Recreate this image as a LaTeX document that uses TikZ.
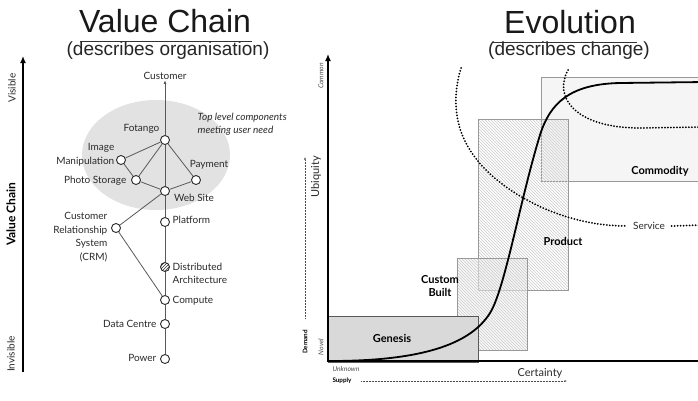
\documentclass[tikz,border=0pt]{standalone}
\usepackage{fontspec}
\setmainfont{Lato}
\newfontfamily\titlefont{Liberation Sans}
\usetikzlibrary{patterns,arrows.meta}
\definecolor{ink}{HTML}{2A2A2A}
\definecolor{blob}{HTML}{E2E2E2}
\begin{document}
\begin{tikzpicture}[x=1pt,y=-1pt,
  vc/.style={circle,draw=ink,fill=white,line width=0.9pt,inner sep=0pt,minimum size=9pt},
  lbl/.style={font=\fontsize{10}{13.5}\selectfont,text=ink,inner sep=0.5pt},
  itl/.style={font=\itshape\fontsize{10}{13}\selectfont,text=ink,inner sep=0.5pt},
  vedge/.style={draw=black!65,line width=0.8pt},
  title/.style={font=\titlefont\fontsize{32}{32}\selectfont,text=black!90,anchor=base,inner sep=0pt},
  subtitle/.style={font=\titlefont\fontsize{19}{20}\selectfont,text=black!85,anchor=base,inner sep=0pt},
  boxlbl/.style={font=\bfseries\fontsize{11}{13}\selectfont,text=black,inner sep=0pt,align=center},
  tiny/.style={font=\itshape\fontsize{6.8}{7}\selectfont,text=black!70,inner sep=0pt},
  tinyb/.style={font=\bfseries\fontsize{6.3}{7}\selectfont,text=black,inner sep=0pt},
  dots/.style={line width=2pt,dash pattern=on 0pt off 3pt,line cap=round,black},
  smalldots/.style={line width=0.5pt,dash pattern=on 0.5pt off 1pt,black!70},
  boxline/.style={draw=black!40,line width=0.8pt},
  hatch/.style={pattern=north west lines,pattern color=black!20},
]
\useasboundingbox (0,0) rectangle (698,400);
\clip (0,0) rectangle (698,400);
\fill[white] (0,0) rectangle (698,400);

% ---------------- Titles ----------------
\node[title] (t1) at (165,32.5) {Value Chain};
\node[subtitle] (s1) at (168,55) {(describes organisation)};
\draw[black!80,line width=0.7pt] (80,41.5) -- (252,41.5);
\node[title] (t2) at (570,33) {Evolution};
\node[subtitle] (s2) at (569,55) {(describes change)};
\draw[black!80,line width=0.7pt] (493,42) -- (637,42);

% ---------------- Value chain axis ----------------
\coordinate (vb) at (23,372);
\coordinate (vt) at (23,56);
\draw[line width=2.4pt,-{Latex[length=7pt,width=6pt]}] (vb) -- (vt);
\node[lbl,rotate=90] (visible) at (12,88) {Visible};
\node[font=\bfseries\fontsize{12}{12}\selectfont,rotate=90,inner sep=0pt] (vclbl) at (11,214) {Value Chain};
\node[lbl,rotate=90] (invisible) at (11,354) {Invisible};

% ---------------- Value chain graph ----------------
\fill[blob] (156,155) ellipse [x radius=74, y radius=55];
\node[itl,anchor=west,align=left] (toplvl) at (197,124.5) {Top level components\\meeting user need};

\node[lbl] (cust) at (165,76) {Customer};
\node[vc] (fot) at (165,140) {};
\node[vc] (img) at (121,160) {};
\node[vc] (pho) at (136,180) {};
\node[vc] (pay) at (196,180) {};
\node[vc] (web) at (165,191) {};
\node[vc] (crm) at (116,228) {};
\node[vc] (plat) at (165,222) {};
\node[vc,pattern=north east lines,pattern color=black!80] (dist) at (165,267) {};
\node[vc] (comp) at (165,300) {};
\node[vc] (dc) at (165,324) {};
\node[vc] (pow) at (165,359) {};

\draw[vedge,-{Latex[length=3.5pt,width=3pt]}] (fot) -- (cust);
\draw[vedge] (fot) -- (web);
\draw[vedge] (web) -- (plat);
\draw[vedge] (plat) -- (dist);
\draw[vedge] (dist) -- (comp);
\draw[vedge] (comp) -- (dc);
\draw[vedge] (dc) -- (pow);
\draw[vedge] (fot) -- (img);
\draw[vedge] (fot) -- (pho);
\draw[vedge] (fot) -- (pay);
\draw[vedge] (img) -- (pho);
\draw[vedge] (pho) -- (web);
\draw[vedge] (pay) -- (web);
\draw[vedge] (web) -- (crm);
\draw[vedge] (crm) -- (comp);

\node[lbl,anchor=east] (lfot) at (160,129) {Fotango};
\node[lbl,anchor=east,align=right] (limg) at (115,155) {Image\\Manipulation};
\node[lbl,anchor=east] (lpho) at (127,181) {Photo Storage};
\node[lbl] (lpay) at (209,165) {Payment};
\node[lbl] (lweb) at (194,198) {Web Site};
\node[lbl,anchor=east,align=right] (lcrm) at (108,237) {Customer\\Relationship\\System\\(CRM)};
\node[lbl,anchor=west] (lplat) at (172,220) {Platform};
\node[lbl,anchor=west,align=left] (ldist) at (172,273.5) {Distributed\\Architecture};
\node[lbl,anchor=west] (lcomp) at (172,301) {Compute};
\node[lbl,anchor=east] (ldc) at (157,324) {Data Centre};
\node[lbl,anchor=east] (lpow) at (157,358) {Power};

% ---------------- Evolution boxes ----------------
\fill[black!4] (541,77) rectangle (710,181);
\draw[boxline] (541,77) rectangle (710,181);
\fill[hatch] (478,119) rectangle (568,290);
\draw[boxline] (478,119) rectangle (568,290);
\fill[black!5,opacity=0.5] (457,258) rectangle (527,350);
\fill[hatch] (457,258) rectangle (527,350);
\draw[boxline] (457,258) rectangle (527,350);
\fill[black!15] (328,316) rectangle (478,362);
\draw[draw=black!65,line width=0.9pt] (328,316) rectangle (478,362);

\node[boxlbl] (lcommod) at (660,171) {Commodity};
\node[boxlbl] (lprod) at (563,241) {Product};
\node[boxlbl] (lcustom) at (440,286.5) {Custom\\Built};
\node[boxlbl] (lgen) at (392,338) {Genesis};

% ---------------- Dotted service curves ----------------
\coordinate (d1a) at (461,68);
\coordinate (d1b) at (520,196);
\coordinate (d1c) at (626,226);
\draw[dots] (d1a) .. controls (447,115) and (460,160) .. (d1b) .. controls (560,220) and (600,226) .. (d1c);
\node[lbl] (service) at (649,226) {Service};
\coordinate (d1d) at (703,225);
\draw[dots] (service.east) ++(6,0) -- (d1d);
\coordinate (d2a) at (568,70);
\coordinate (d2b) at (640,128);
\coordinate (d2c) at (703,127);
\draw[dots] (d2a) .. controls (553,97) and (575,128) .. (d2b) -- (d2c);

% ---------------- Evolution curve ----------------
\coordinate (c0) at (330,361);
\coordinate (c1) at (490,313);
\coordinate (c2) at (540,135);
\coordinate (c3) at (620,83);
\coordinate (c4) at (705,82);
\draw[line width=1.8pt,black] (c0) .. controls (420,361) and (470,345) .. (c1)
  .. controls (505,289) and (520,200) .. (c2)
  .. controls (550,103) and (570,84) .. (c3) -- (c4);

% ---------------- Evolution axes ----------------
\coordinate (o) at (328,361);
\coordinate (xr) at (705,361);
\coordinate (yt) at (328,54);
\draw[line width=2.4pt] (327,361) -- (xr);
\draw[line width=2.4pt,-{Latex[length=7pt,width=6pt]}] (328,362) -- (yt);

\node[lbl,rotate=90,font=\fontsize{11}{11}\selectfont] (ubiq) at (316,177) {Ubiquity};
\node[tiny,rotate=90] (common) at (321,76) {Common};
\node[tiny,rotate=90] (novel) at (321,347) {Novel};
\node[tinyb,rotate=90] (demand) at (305,342) {Demand};
\coordinate (da) at (305,318);
\coordinate (db) at (305,157);
\draw[smalldots,-{Latex[length=2.5pt,width=2pt]}] (da) -- (db);

\node[tiny] (unknown) at (346,369) {Unknown};
\node[lbl,font=\fontsize{11}{11}\selectfont] (cert) at (540,373) {Certainty};
\node[tinyb] (supply) at (342,381) {Supply};
\coordinate (sa) at (361,381);
\coordinate (sb) at (567,381);
\draw[smalldots,-{Latex[length=2.5pt,width=2pt]}] (sa) -- (sb);
\end{tikzpicture}
\end{document}
